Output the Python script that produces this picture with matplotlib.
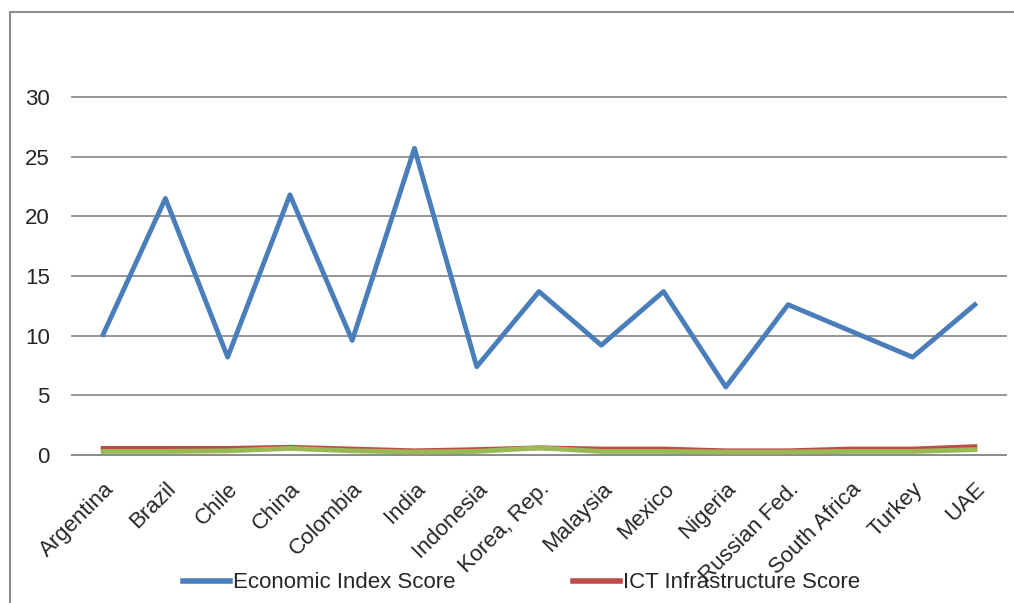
import matplotlib
matplotlib.use("Agg")
from matplotlib import pyplot as plt
from matplotlib.patches import Rectangle
from matplotlib.lines import Line2D

countries = ["Argentina", "Brazil", "Chile", "China", "Colombia", "India", "Indonesia",
             "Korea, Rep.", "Malaysia", "Mexico", "Nigeria", "Russian Fed.",
             "South Africa", "Turkey", "UAE"]

economic = [10.1, 21.5, 8.2, 21.8, 9.6, 25.7, 7.4, 13.7, 9.2, 13.7, 5.7, 12.6, 10.4, 8.2, 12.6]
ict_infra = [0.55, 0.55, 0.55, 0.65, 0.5, 0.35, 0.45, 0.6, 0.5, 0.5, 0.35, 0.35, 0.5, 0.5, 0.7]
third = [0.3, 0.3, 0.35, 0.55, 0.35, 0.25, 0.3, 0.6, 0.3, 0.3, 0.25, 0.25, 0.3, 0.3, 0.45]

blue = "#4A7EBB"
red = "#BE4B48"
green = "#98B954"
grid_col = "#8C8C8C"
text_col = "#262626"

plt.rcParams['font.family'] = ['Liberation Sans', 'DejaVu Sans']

fig = plt.figure(figsize=(10.14, 6.03), dpi=100)
ax = fig.add_axes([72 / 1014, 1 - 455 / 603, 934 / 1014, 358 / 603])

x = range(len(countries))
ax.plot(x, economic, color=blue, lw=3.5, zorder=3)
ax.plot(x, ict_infra, color=red, lw=3.5, zorder=3)
ax.plot(x, third, color=green, lw=3.5, zorder=4)

ax.set_xlim(-0.5, len(countries) - 0.5)
ax.set_ylim(0, 30)
ax.set_yticks(range(0, 31, 5))
ax.yaxis.grid(True, color=grid_col, lw=1.3)
for gl in ax.get_ygridlines():
    gl.set_clip_on(False)
ax.set_axisbelow(True)
for s in ["top", "right", "left"]:
    ax.spines[s].set_visible(False)
ax.spines["bottom"].set_color(grid_col)
ax.spines["bottom"].set_linewidth(1.3)

ax.set_xticks(list(x))
ax.set_xticklabels(countries, rotation=45, ha="right", rotation_mode="anchor",
                   fontsize=16, color=text_col)
ax.tick_params(axis="x", length=0, pad=17)
ax.tick_params(axis="y", length=0, pad=16, labelsize=16, labelcolor=text_col)

handles = [Line2D([], [], color=blue, lw=4), Line2D([], [], color=red, lw=4)]
fig.legend(handles, ["Economic Index Score", "ICT Infrastructure Score"],
           loc="center left", bbox_to_anchor=(163 / 1014, 1 - 583 / 603), ncol=2,
           frameon=False, handlelength=2.1, handletextpad=0.15, columnspacing=5.3,
           labelcolor=text_col, prop={"size": 16})

fig.patches.append(Rectangle((10 / 1014, -0.1), 1.1, 1 - 12 / 603 + 0.1, transform=fig.transFigure,
                             fill=False, edgecolor="#8C8C8C", lw=1.5))

fig.savefig("out.png", dpi=100)
